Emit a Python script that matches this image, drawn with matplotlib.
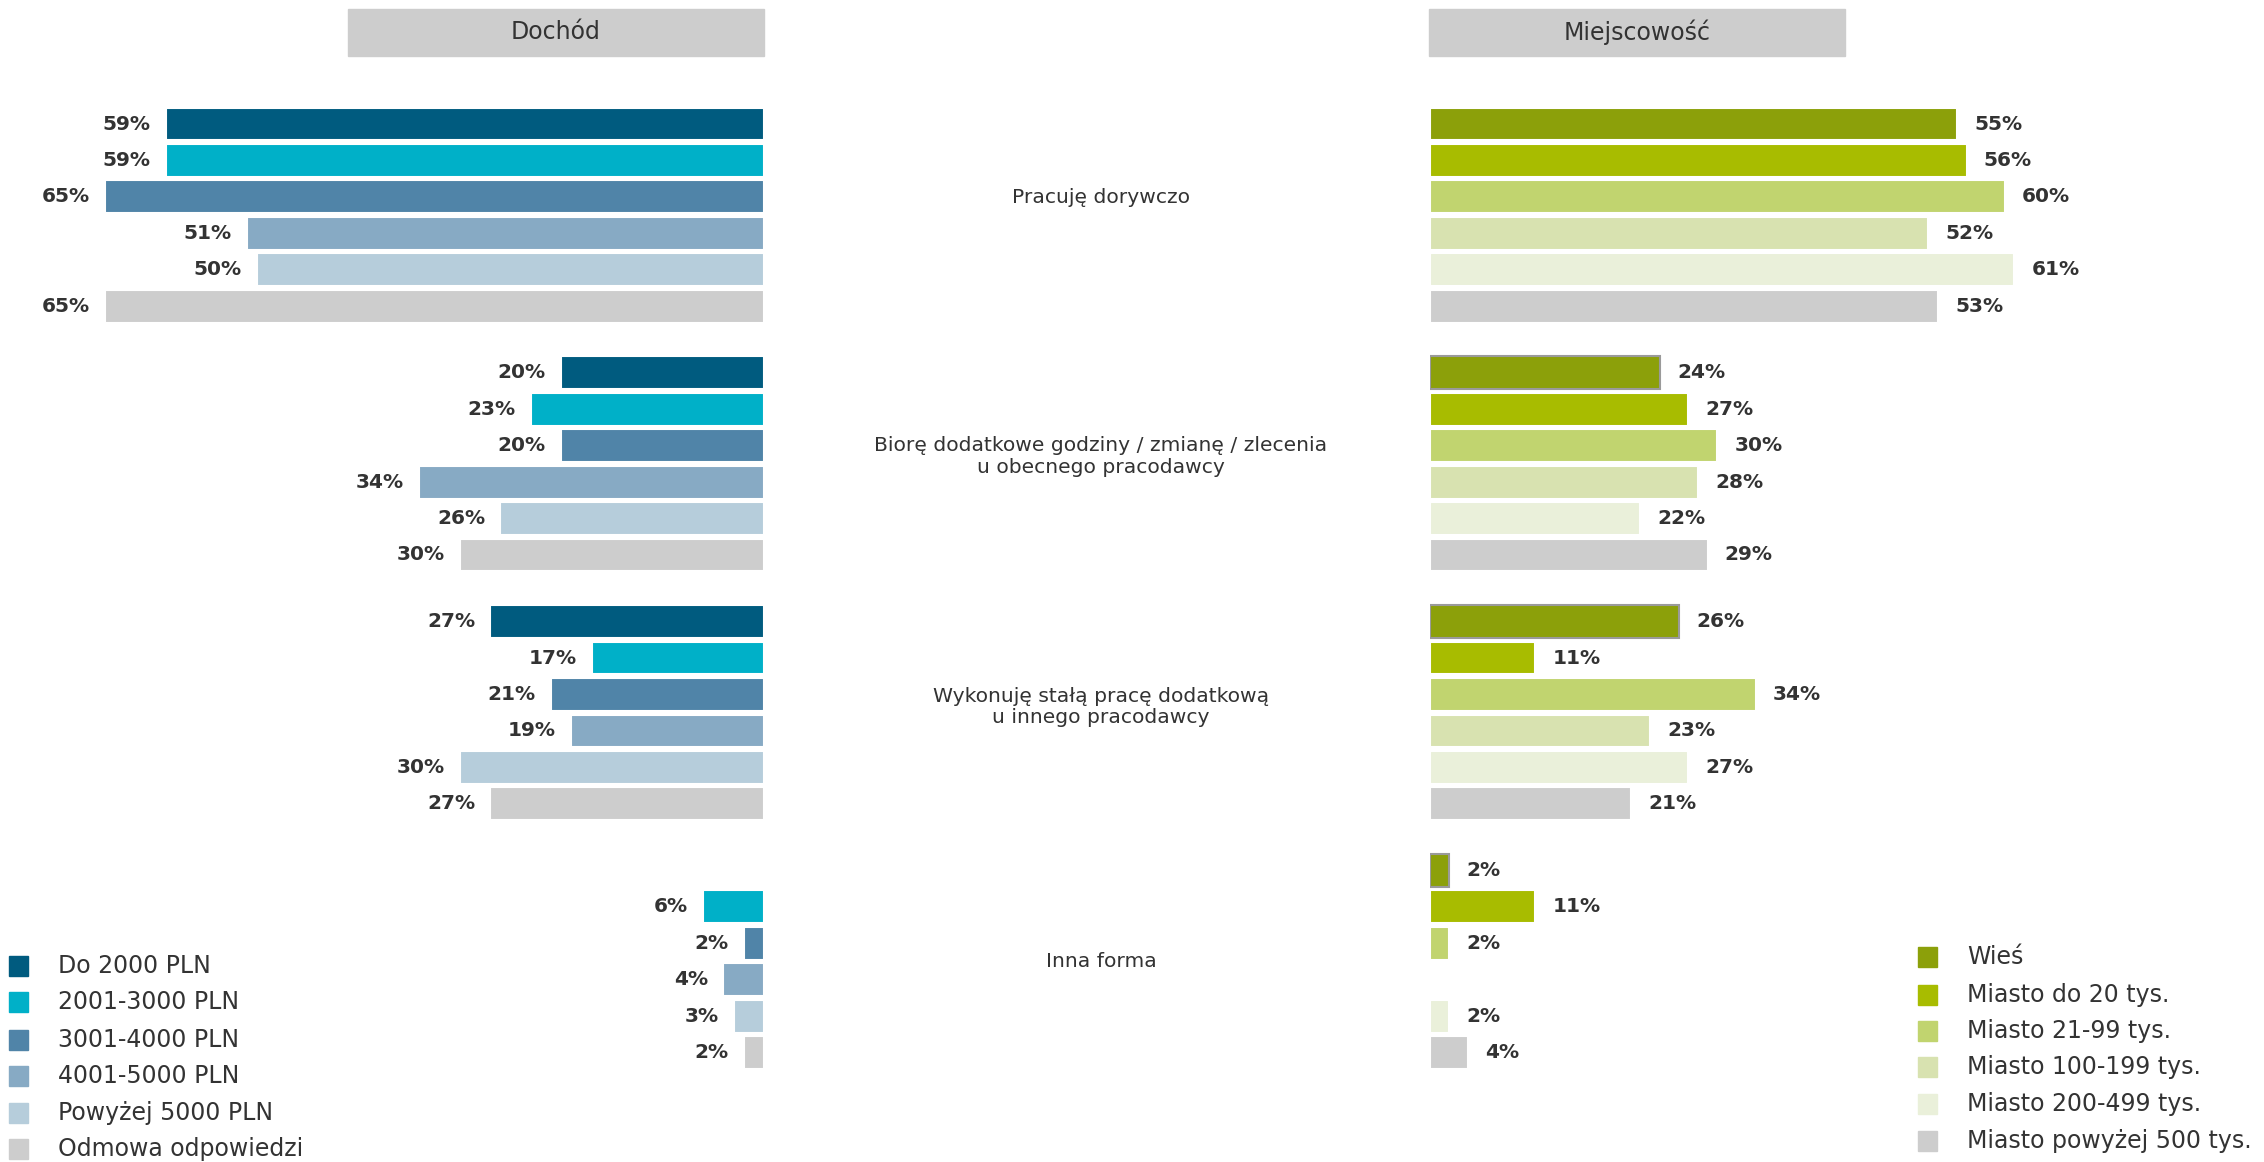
import matplotlib.pyplot as plt
from matplotlib.patches import Rectangle
import matplotlib.transforms as mtransforms

# dane
categories = ['Pracuję dorywczo',
              'Biorę dodatkowe godziny / zmianę / zlecenia\nu obecnego pracodawcy',
              'Wykonuję stałą pracę dodatkową\nu innego pracodawcy',
              'Inna forma']

income_labels = ['Do 2000 PLN', '2001-3000 PLN', '3001-4000 PLN',
                 '4001-5000 PLN', 'Powyżej 5000 PLN', 'Odmowa odpowiedzi']
income_values = [
    [59, 59, 65, 51, 50, 65],
    [20, 23, 20, 34, 26, 30],
    [27, 17, 21, 19, 30, 27],
    [None, 6, 2, 4, 3, 2],
]
income_colors = ['#005b7f', '#00b0c8', '#5084a8', '#87aac4', '#b6cddb', '#cdcdcd']

place_labels = ['Wieś', 'Miasto do 20 tys.', 'Miasto 21-99 tys.',
                'Miasto 100-199 tys.', 'Miasto 200-499 tys.', 'Miasto powyżej 500 tys.']
place_values = [
    [55, 56, 60, 52, 61, 53],
    [24, 27, 30, 28, 22, 29],
    [26, 11, 34, 23, 27, 21],
    [2, 11, 2, None, 2, 4],
]
place_colors = ['#8ca00a', '#a8bc00', '#c1d46f', '#d8e2b0', '#eaf0da', '#cdcdcd']

W, H = 2264, 1162
GROUP_STEP = 6.83
ROW_PX = 36.43
TOP_PX = 124
TEXT = '#333333'

fig = plt.figure(figsize=(W / 100, H / 100), dpi=100)

ylim = ((H - TOP_PX) / ROW_PX, -TOP_PX / ROW_PX)
left_edge = 764
right_edge = 1429.5
ax_l = fig.add_axes([0, 0, left_edge / W, 1])
ax_l.set_xlim(left_edge / 10.14, 0)
ax_r = fig.add_axes([right_edge / W, 0, (W - right_edge) / W, 1])
ax_r.set_xlim(0, (W - right_edge) / 9.59)
for ax in (ax_l, ax_r):
    ax.set_ylim(*ylim)
    ax.axis('off')


def draw_panel(ax, values, colors, side):
    for g, row in enumerate(values):
        for r, v in enumerate(row):
            if v is None:
                continue
            y = g * GROUP_STEP + r
            edge = 'white'
            if side == 'r' and r == 0 and g > 0:
                edge = '#9a9a9a'
            ax.barh(y, v, height=0.9, color=colors[r], edgecolor=edge, linewidth=1.5)
            if side == 'l':
                ax.text(v + 1.5, y, f'{v}%', ha='right', va='center',
                        fontsize=14.5, fontweight='bold', color=TEXT)
            else:
                ax.text(v + 1.8, y, f'{v}%', ha='left', va='center',
                        fontsize=14.5, fontweight='bold', color=TEXT)


draw_panel(ax_l, income_values, income_colors, 'l')
draw_panel(ax_r, place_values, place_colors, 'r')

# etykiety kategorii pośrodku
trans = mtransforms.blended_transform_factory(fig.transFigure, ax_l.transData)
offsets = [0.47, 0.2, 0.15, 0.0]
for g, cat in enumerate(categories):
    yc = g * GROUP_STEP + 2.5 - offsets[g]
    fig.text(1101 / W, yc, cat, transform=trans, ha='center', va='center',
             fontsize=14.6, color=TEXT, linespacing=1.15)


def fx(px):
    return px / W


def fy(py):
    return 1 - py / H


# nagłówki
for x0, x1, title in [(348, 764, 'Dochód'), (1429, 1845, 'Miejscowość')]:
    fig.patches.append(Rectangle((fx(x0), fy(56)), fx(x1 - x0), 47 / H,
                                 transform=fig.transFigure, color='#cdcdcd'))
    fig.text(fx((x0 + x1) / 2), fy(32), title, ha='center', va='center',
             fontsize=17, color=TEXT)

# legendy
def draw_legend(x_sq, x_txt, rows, labels, colors):
    for yc, lab, col in zip(rows, labels, colors):
        fig.patches.append(Rectangle((fx(x_sq), fy(yc + 10)), 19 / W, 20 / H,
                                     transform=fig.transFigure, color=col))
        fig.text(fx(x_txt), fy(yc), lab, ha='left', va='center',
                 fontsize=17, color=TEXT)


draw_legend(9, 58, [966, 1002, 1040, 1076, 1113, 1149], income_labels, income_colors)
draw_legend(1918, 1967, [957, 995, 1031, 1067, 1104, 1141], place_labels, place_colors)

plt.savefig('out.png', dpi=100, facecolor='white')
